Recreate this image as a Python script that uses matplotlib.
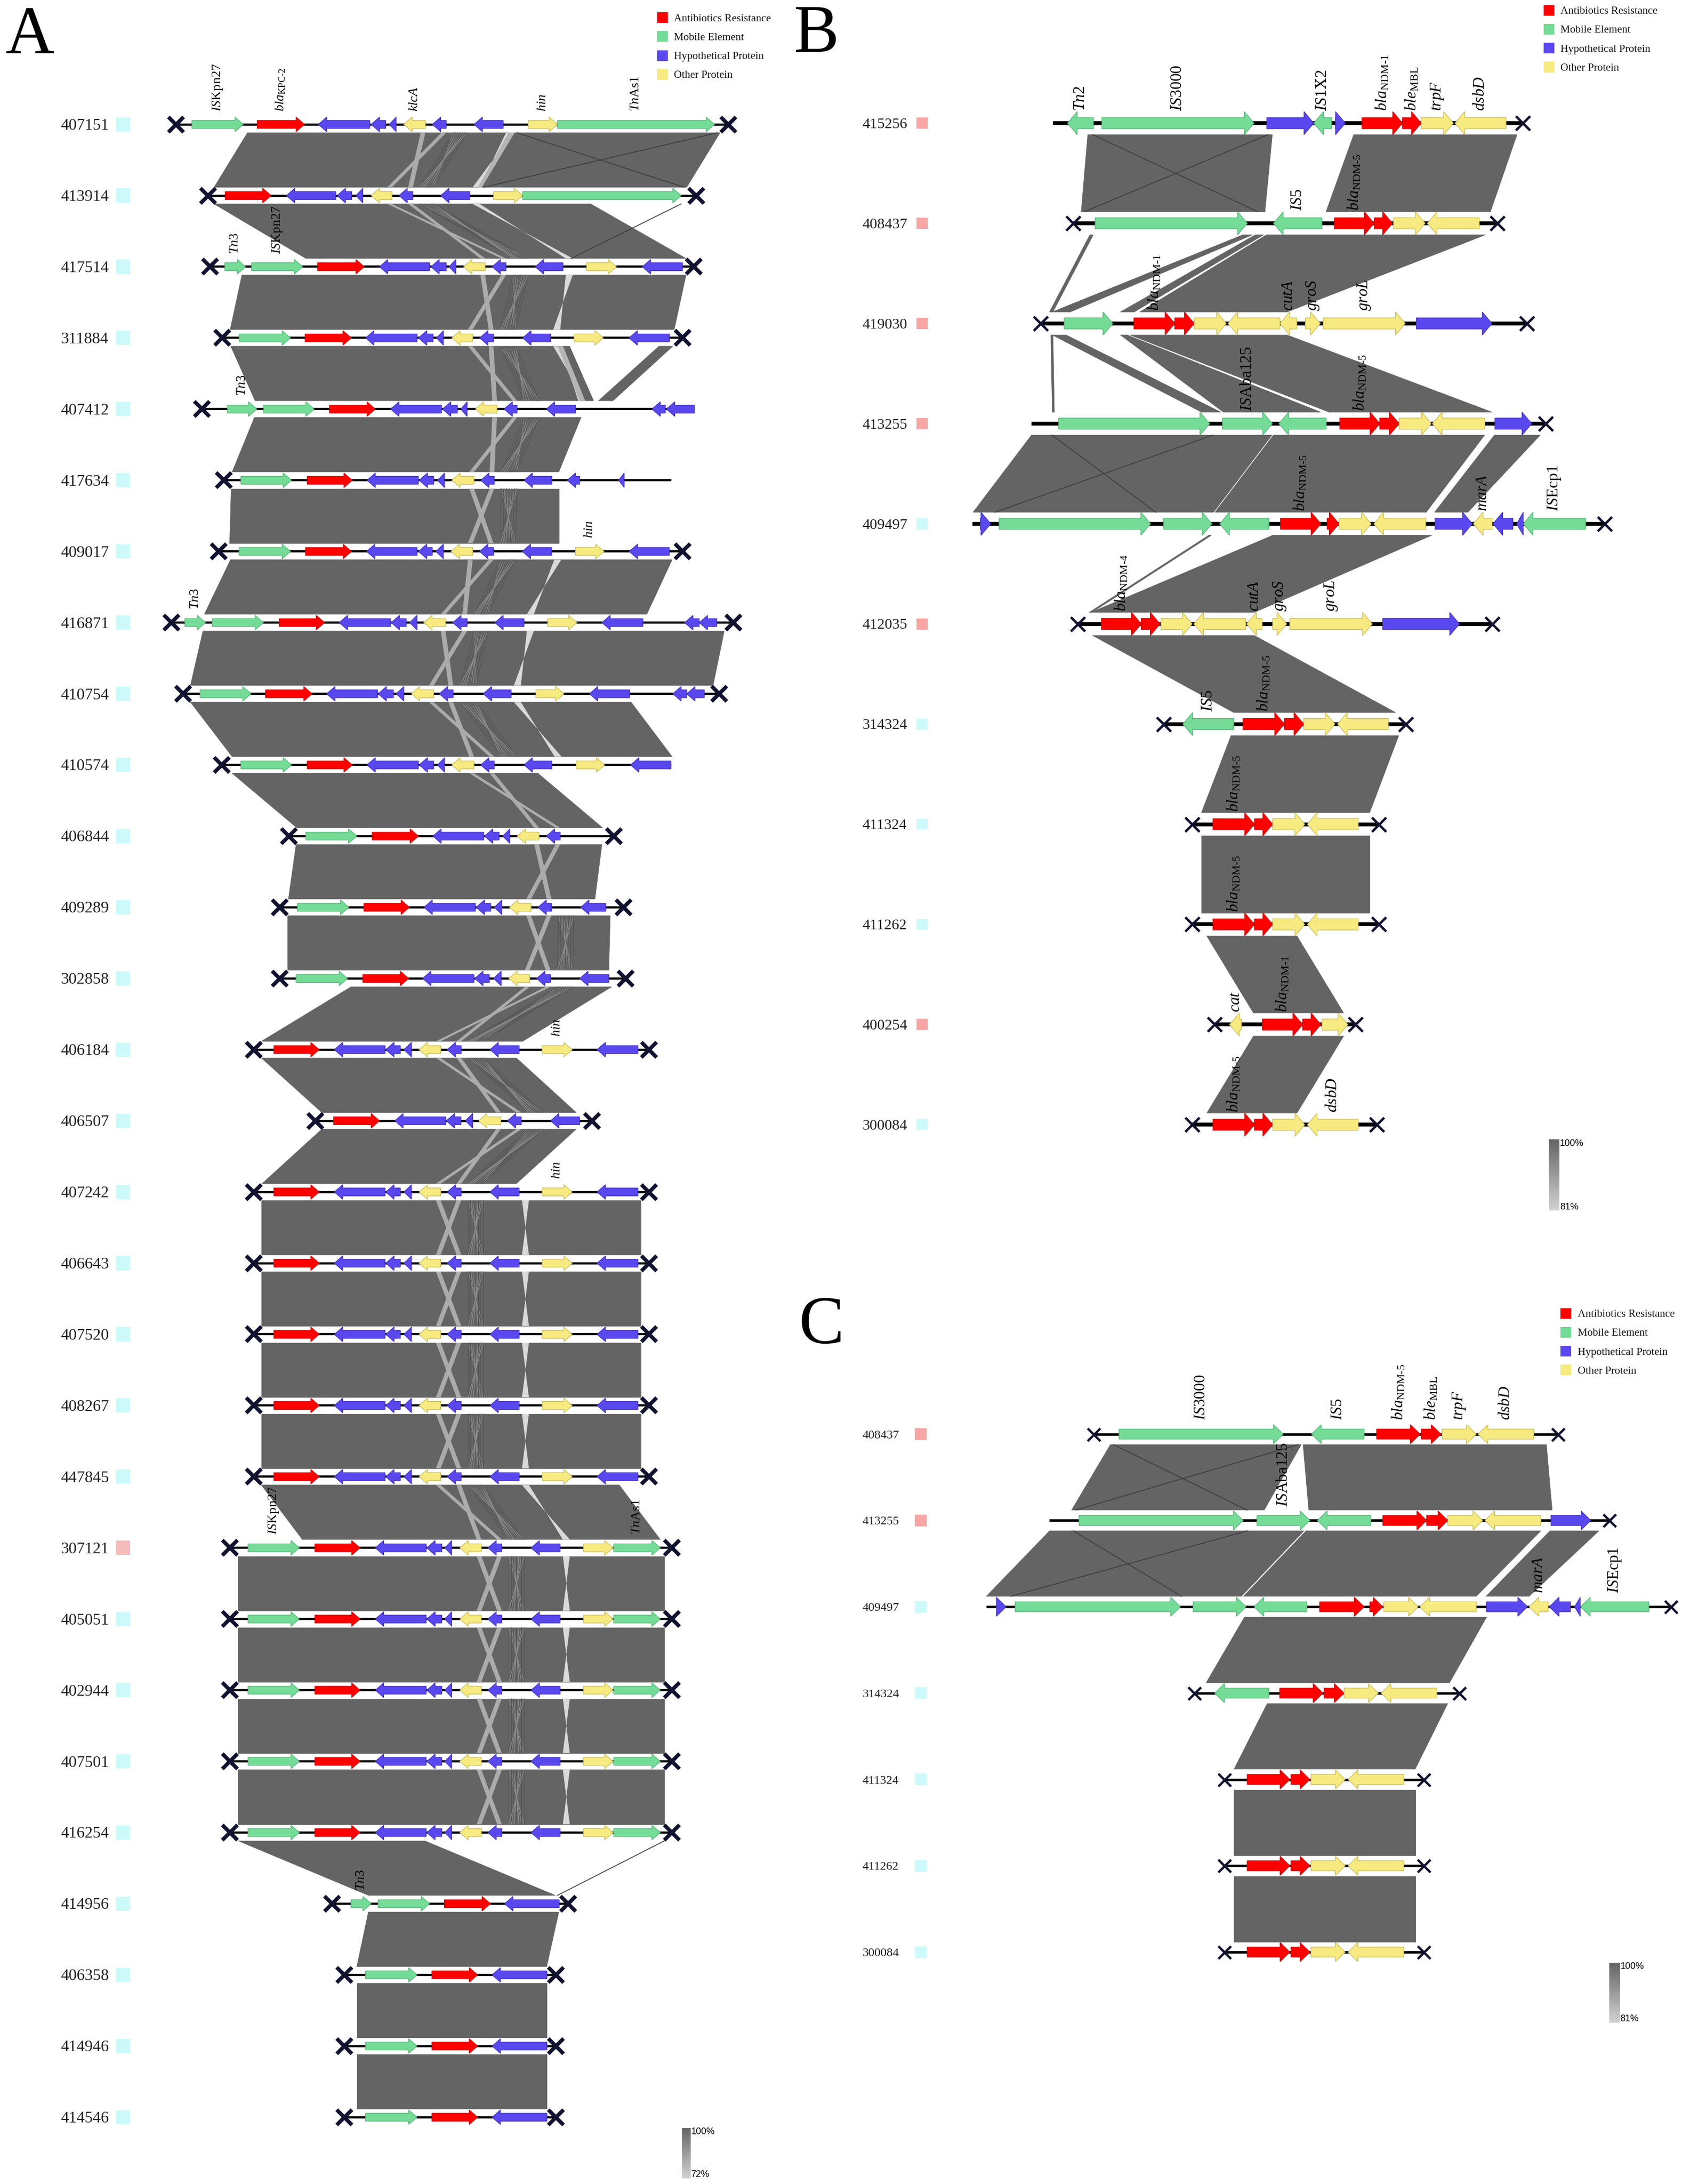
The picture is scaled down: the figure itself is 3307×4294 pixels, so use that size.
import numpy as np
import matplotlib
matplotlib.use("Agg")
import matplotlib.pyplot as plt
from matplotlib.patches import Polygon, Rectangle
from matplotlib.colors import LinearSegmentedColormap

plt.rcParams["font.family"] = ["Liberation Serif", "DejaVu Serif"]
plt.rcParams["mathtext.fontset"] = "custom"
plt.rcParams["mathtext.rm"] = "Liberation Serif"
plt.rcParams["mathtext.it"] = "Liberation Serif:italic"
plt.rcParams["mathtext.bf"] = "Liberation Serif:bold"

# ============================ DATA ============================
legend_labels = ["Antibiotics Resistance", "Mobile Element", "Hypothetical Protein", "Other Protein"]
legend_codes = ["R", "M", "H", "O"]

gene_label_tex = {
    "ISKpn27": r"$\mathit{IS}\mathrm{Kpn27}$",
    "blaKPC2": r"$\mathit{bla}_{\mathrm{KPC\text{-}2}}$",
    "klcA": r"$\mathit{klcA}$",
    "hin": r"$\mathit{hin}$",
    "TnAs1": r"$\mathit{Tn}\mathrm{As1}$",
    "Tn3": r"$\mathit{Tn3}$",
    "Tn2": r"$\mathit{Tn2}$",
    "IS3000": r"$\mathit{IS}\mathrm{3000}$",
    "IS1X2": r"$\mathit{IS}\mathrm{1X2}$",
    "IS5": r"$\mathit{IS}\mathrm{5}$",
    "ISAba125": r"$\mathit{IS}\mathrm{Aba125}$",
    "ISEcp1": r"$\mathit{IS}\mathrm{Ecp1}$",
    "blaNDM1": r"$\mathit{bla}_{\mathrm{NDM\text{-}1}}$",
    "blaNDM4": r"$\mathit{bla}_{\mathrm{NDM\text{-}4}}$",
    "blaNDM5": r"$\mathit{bla}_{\mathrm{NDM\text{-}5}}$",
    "bleMBL": r"$\mathit{ble}_{\mathrm{MBL}}$",
    "trpF": r"$\mathit{trpF}$",
    "dsbD": r"$\mathit{dsbD}$",
    "cutA": r"$\mathit{cutA}$",
    "groS": r"$\mathit{groS}$",
    "groL": r"$\mathit{groL}$",
    "marA": r"$\mathit{marA}$",
    "cat": r"$\mathit{cat}$",
}

# ---------------- Panel A ----------------
A_names = ["407151", "413914", "417514", "311884", "407412", "417634", "409017", "416871",
           "410754", "410574", "406844", "409289", "302858", "406184", "406507", "407242",
           "406643", "407520", "408267", "447845", "307121", "405051", "402944", "407501",
           "416254", "414956", "406358", "414946", "414546"]
A_groups = ["c"] * 20 + ["p"] + ["c"] * 8

# (sequence start, sequence end, cut mark at start, cut mark at end)
A_span = [(126.7, 524, 1, 1), (149.5, 501, 1, 1), (151, 499, 1, 1), (160, 491, 1, 1),
          (145.3, 499.5, 1, 0), (161, 483, 1, 0), (157.4, 491, 1, 1), (123.2, 527.6, 1, 1),
          (131.6, 517.4, 1, 1), (159.5, 483, 1, 0), (207.8, 441.5, 1, 1), (201.3, 448.5, 1, 1),
          (201.3, 450, 1, 1), (182.5, 466.7, 1, 1), (226.8, 426, 1, 1), (182.5, 466.7, 1, 1),
          (182.5, 466.7, 1, 1), (182.5, 466.7, 1, 1), (182.5, 466.7, 1, 1), (182.5, 466.7, 1, 1),
          (165.2, 483.5, 1, 1), (165.2, 483.5, 1, 1), (165.2, 483.5, 1, 1), (165.2, 483.5, 1, 1),
          (165.2, 483.5, 1, 1), (239, 408.7, 1, 1), (247.7, 400, 1, 1), (247.7, 400, 1, 1),
          (247.7, 400, 1, 1)]

# genes: (start, end, strand, category)
A_g407151 = [(138, 175, 1, "M"), (185, 219, 1, "R"), (229, 266, -1, "H"), (267, 277.5, -1, "H"),
             (280, 285, -1, "H"), (290.5, 306, -1, "O"), (311, 321, -1, "H"), (341, 362, -1, "H"),
             (380, 401, 1, "O"), (401, 514, 1, "M")]
A_g413914 = [(162, 195, 1, "R"), (206, 241.5, -1, "H"), (242.5, 253, -1, "H"), (256, 261, -1, "H"),
             (267, 282, -1, "O"), (287, 297, -1, "H"), (317, 338, -1, "H"), (355, 376, 1, "O"),
             (376, 490, 1, "M")]
A_g417514 = [(161.7, 176.7, 1, "M"), (181, 217.7, 1, "M"), (228.5, 262, 1, "R"), (273, 309, -1, "H"),
             (310, 321, -1, "H"), (323, 328, -1, "H"), (333.5, 349, -1, "O"), (354, 364, -1, "H"),
             (385, 405, -1, "H"), (422, 443.5, 1, "O"), (462, 491, -1, "H")]
A_g311884 = [(172, 209, 1, "M"), (219.5, 252.7, 1, "R"), (263, 300, -1, "H"), (301, 311.5, -1, "H"),
             (314, 319, -1, "H"), (325, 340, -1, "O"), (345, 355, -1, "H"), (376, 396, -1, "H"),
             (413, 434, 1, "O"), (452.5, 481.6, -1, "H")]
A_g407412 = [(163.6, 184.8, 1, "M"), (189.6, 226, 1, "M"), (237, 270, 1, "R"), (281, 317.6, -1, "H"),
             (318.3, 329, -1, "H"), (331.5, 336, -1, "H"), (342, 357.5, -1, "O"), (362.6, 372, -1, "H"),
             (393, 414, -1, "H"), (469, 478.6, -1, "H"), (479.4, 499.5, -1, "H")]
A_g417634 = [(173.3, 209.7, 1, "M"), (221, 253.4, 1, "R"), (264, 301, -1, "H"), (301.5, 312, -1, "H"),
             (314.7, 319.8, -1, "H"), (325, 341, -1, "O"), (345.8, 355.6, -1, "H"), (377, 397, -1, "H"),
             (408, 417, -1, "H"), (445, 449, -1, "H")]
A_g409017 = [(172, 209, 1, "M"), (219.8, 252.8, 1, "R"), (263.7, 300, -1, "H"), (301, 311, -1, "H"),
             (313.5, 319, -1, "H"), (324.5, 340, -1, "O"), (345, 355, -1, "H"), (375.7, 396.7, -1, "H"),
             (414, 434.5, 1, "O"), (452.6, 481.5, -1, "H")]
A_g416871 = [(133, 147.8, 1, "M"), (152.6, 189.5, 1, "M"), (200.8, 233.5, 1, "R"), (244, 281, -1, "H"),
             (281.4, 292.3, -1, "H"), (294.6, 300, -1, "H"), (304.8, 320.5, -1, "O"), (325.7, 336, -1, "H"),
             (356, 377, -1, "H"), (394, 415, 1, "O"), (433, 462.5, -1, "H"), (492.5, 503, -1, "H"),
             (503, 515.6, -1, "H")]
A_g410754 = [(143.9, 180.6, 1, "M"), (191, 224.5, 1, "R"), (235, 271.6, -1, "H"), (272, 283, -1, "H"),
             (285, 290.5, -1, "H"), (296, 312, -1, "O"), (316, 326, -1, "H"), (347.6, 367.7, -1, "H"),
             (385.5, 405.7, 1, "O"), (424, 453, -1, "H"), (484, 494, -1, "H"), (494, 506.7, -1, "H")]
A_g410574 = [(173.3, 209.7, 1, "M"), (221, 253.4, 1, "R"), (264, 301, -1, "H"), (301.5, 312, -1, "H"),
             (314.7, 319.8, -1, "H"), (325, 341, -1, "O"), (345.8, 355.6, -1, "H"), (377, 397, -1, "H"),
             (414.4, 435, 1, "O"), (453.6, 482.6, -1, "H")]
A_g406844 = [(220, 256.7, 1, "M"), (267.8, 301, 1, "R"), (311.4, 348, -1, "H"), (348.5, 359, -1, "H"),
             (361.7, 366.8, -1, "H"), (372, 387.8, -1, "O"), (393, 403, -1, "H")]
A_g409289 = [(214, 251, 1, "M"), (261.8, 294.5, 1, "R"), (305, 342, -1, "H"), (342.5, 353, -1, "H"),
             (355.6, 361, -1, "H"), (366.5, 382, -1, "O"), (387, 396.7, -1, "H"), (417.7, 435.8, -1, "H")]
A_g302858 = [(213, 250, 1, "M"), (261, 294, 1, "R"), (304, 341, -1, "H"), (341.5, 352, -1, "H"),
             (355, 360.5, -1, "H"), (366, 381, -1, "O"), (386, 396, -1, "H"), (417, 438, -1, "H")]
A_g406184 = [(197, 229.6, 1, "R"), (240.5, 277, -1, "H"), (277.5, 288, -1, "H"), (290.6, 296, -1, "H"),
             (301.5, 317, -1, "O"), (321.7, 331.8, -1, "H"), (352.5, 373.5, -1, "H"), (390, 411.6, 1, "O"),
             (429.5, 458.9, -1, "H")]
A_g406507 = [(240, 273, 1, "R"), (284, 320.6, -1, "H"), (321, 331.6, -1, "H"), (334.7, 340, -1, "H"),
             (344.3, 360.3, -1, "O"), (365, 375, -1, "H"), (396, 417, -1, "H")]
A_g307121 = [(178.4, 215.3, 1, "M"), (226.5, 259, 1, "R"), (270, 306.6, -1, "H"), (307, 317.8, -1, "H"),
             (320, 325, -1, "H"), (330.8, 346.3, -1, "O"), (351, 361, -1, "H"), (382, 402.9, -1, "H"),
             (419.7, 441, 1, "O"), (441.5, 475, 1, "M")]
A_g414956 = [(252.5, 267, 1, "M"), (272, 309, 1, "M"), (319.7, 352.8, 1, "R"), (363, 402.3, -1, "H")]
A_g406358 = [(263, 300, 1, "M"), (310.7, 343.6, 1, "R"), (354, 393.4, -1, "H")]

A_genes = [A_g407151, A_g413914, A_g417514, A_g311884, A_g407412, A_g417634, A_g409017,
           A_g416871, A_g410754, A_g410574, A_g406844, A_g409289, A_g302858, A_g406184,
           A_g406507, A_g406184, A_g406184, A_g406184, A_g406184, A_g406184,
           A_g307121, A_g307121, A_g307121, A_g307121, A_g307121,
           A_g414956, A_g406358, A_g406358, A_g406358]

A_gene_labels = {0: [(0, "ISKpn27"), (1, "blaKPC2"), (5, "klcA"), (8, "hin"), (9, "TnAs1")],
                 2: [(0, "Tn3"), (1, "ISKpn27")], 4: [(0, "Tn3")], 6: [(8, "hin")],
                 7: [(0, "Tn3")], 13: [(7, "hin")], 15: [(7, "hin")],
                 20: [(0, "ISKpn27"), (9, "TnAs1")], 25: [(0, "Tn3")]}

# homologous regions between neighbouring sequences: (top from, top to, bottom from, bottom to, kind)
A_links = [
    [(178, 366, 154, 344, "d"), (366, 370, 344, 346.5, "l"), (370, 518, 346.5, 494, "d")],
    [(154, 425, 220, 493.5, "d")],
    [(174, 493.5, 165.6, 485, "d")],
    [(166, 409.8, 183.5, 427, "d"), (401.3, 404.9, 417.1, 420.8, "l"), (474, 484, 430.5, 441, "d")],
    [(183, 418, 167, 402, "d")],
    [(166, 402, 165, 402, "d")],
    [(165.8, 483.5, 147, 465.3, "d")],
    [(146, 521, 137, 513, "d")],
    [(137, 454, 167, 483.5, "d")],
    [(167, 387, 213.5, 433.5, "d")],
    [(213, 433, 207.5, 428, "d")],
    [(207, 439, 207, 438, "d")],
    [(252.5, 440, 188, 376, "d")],
    [(188, 371.5, 231.5, 414.5, "d")],
    [(231.5, 414.5, 188.5, 371.5, "d")],
    [(188, 461, 188, 461, "d")],
    [(188, 461, 188, 461, "d")],
    [(188, 461, 188, 461, "d")],
    [(188, 461, 188, 461, "d")],
    [(188, 445.5, 217.5, 475, "d")],
    [(171.4, 477.9, 171.4, 477.9, "d")],
    [(171.4, 477.9, 171.4, 477.9, "d")],
    [(171.4, 477.9, 171.4, 477.9, "d")],
    [(171.4, 477.9, 171.4, 477.9, "d")],
    [(171.4, 305.7, 265, 399.5, "d")],
    [(265, 402, 256.7, 393.3, "d")],
    [(256.7, 393.3, 256.7, 393.3, "d")],
    [(256.7, 393.3, 256.7, 393.3, "d")],
]
A_thin = {0: [(372, 492), (516, 348)], 1: [(490, 411)], 24: [(477.9, 401)]}

# ---------------- Panel B ----------------
B_names = ["415256", "408437", "419030", "413255", "409497", "412035", "314324", "411324",
           "411262", "400254", "300084"]
B_groups = ["p", "p", "p", "p", "c", "p", "c", "c", "c", "p", "c"]
B_span = [(757.5, 1095.3, 0, 1), (771.9, 1077.3, 1, 1), (748.7, 1098.5, 1, 1), (742, 1112, 0, 1),
          (699.7, 1154.4, 0, 1), (775.5, 1073.4, 1, 1), (837.1, 1011.4, 1, 1), (857.6, 992, 1, 1),
          (857.6, 992, 1, 1), (873.7, 975.2, 1, 1), (857.8, 990.3, 1, 1)]
B_g415256 = [(767.9, 786.6, -1, "M"), (792.6, 902.1, 1, "M"), (911.3, 945.1, 1, "H"), (945.1, 957.9, -1, "M"),
             (960.7, 967.8, 1, "H"), (979.8, 1008.9, 1, "R"), (1008.9, 1022.4, 1, "R"),
             (1022.4, 1045.5, 1, "O"), (1046.7, 1083.4, -1, "O")]
B_g408437 = [(787.8, 897.3, 1, "M"), (916.1, 951, -1, "M"), (959.9, 988.5, 1, "R"), (988.5, 1001.7, 1, "R"),
             (1002.5, 1025.2, 1, "O"), (1026.8, 1064.2, -1, "O")]
B_g419030 = [(765.5, 800.5, 1, "M"), (815.7, 845.1, 1, "R"), (845.1, 859.1, 1, "R"), (859.1, 882.2, 1, "O"),
             (883.4, 920.8, -1, "O"), (920.8, 932.9, -1, "O"), (939.1, 949.8, 1, "O"),
             (951.9, 1010.9, 1, "O"), (1018.8, 1073.3, 1, "H")]
B_g413255 = [(761.5, 870.2, 1, "M"), (879.4, 915.3, 1, "M"), (920, 954.1, -1, "M"), (963.8, 992.6, 1, "R"),
             (992.6, 1006.5, 1, "R"), (1006.5, 1029.6, 1, "O"), (1030.4, 1068.2, -1, "O"),
             (1075.4, 1101.9, 1, "H")]
B_g409497 = [(705.3, 712.7, 1, "H"), (718.7, 827.7, 1, "M"), (837.1, 871.8, 1, "M"), (877.4, 912.9, -1, "M"),
             (921.1, 950.2, 1, "R"), (954.7, 963.3, 1, "R"), (963.3, 986.4, 1, "O"), (988.3, 1025.6, -1, "O"),
             (1032.3, 1059.2, 1, "H"), (1059.9, 1073.4, -1, "O"), (1074, 1088.4, -1, "H"),
             (1091, 1095.8, -1, "H"), (1095.8, 1140.6, -1, "M")]
B_g412035 = [(792.3, 821, 1, "R"), (821, 834.5, 1, "R"), (835.2, 857.6, 1, "O"), (858.8, 896.1, -1, "O"),
             (896.8, 908, -1, "O"), (915.5, 925.6, 1, "O"), (927.8, 987.2, 1, "O"), (994.7, 1049.9, 1, "H")]
B_g314324 = [(850.9, 887.5, -1, "M"), (894.2, 924, 1, "R"), (924, 937.9, 1, "R"), (937.9, 960.3, 1, "O"),
             (962.2, 998.7, -1, "O")]
B_g411324 = [(872.6, 902.4, 1, "R"), (902.4, 915.5, 1, "R"), (915.5, 938.6, 1, "O"), (940.5, 977.1, -1, "O")]
B_g400254 = [(884.5, 893.1, -1, "O"), (908, 937.1, 1, "R"), (937.1, 950.2, 1, "R"), (951, 969.6, 1, "O")]
B_genes = [B_g415256, B_g408437, B_g419030, B_g413255, B_g409497, B_g412035, B_g314324,
           B_g411324, B_g411324, B_g400254, B_g411324]
B_gene_labels = {0: [(0, "Tn2"), (1, "IS3000"), (3, "IS1X2"), (5, "blaNDM1"), (6, "bleMBL"), (7, "trpF"), (8, "dsbD")],
                 1: [(1, "IS5"), (2, "blaNDM5")],
                 2: [(1, "blaNDM1"), (5, "cutA"), (6, "groS"), (7, "groL")],
                 3: [(1, "ISAba125"), (3, "blaNDM5")],
                 4: [(4, "blaNDM5"), (9, "marA"), (12, "ISEcp1")],
                 5: [(0, "blaNDM4"), (4, "cutA"), (5, "groS"), (6, "groL")],
                 6: [(0, "IS5"), (1, "blaNDM5")],
                 7: [(0, "blaNDM5")], 8: [(0, "blaNDM5")],
                 9: [(0, "cat"), (1, "blaNDM1")],
                 10: [(0, "blaNDM5"), (3, "dsbD")]}
B_links = [
    [(782.5, 915.3, 777.8, 910, "d"), (973.8, 1091.3, 953.9, 1072.2, "d")],
    [(784, 786.5, 755, 757.5, "d"), (894, 901, 757, 770, "d"), (903, 909, 806, 816, "d"),
     (911, 1068.6, 820, 926, "d")],
    [(755.9, 757.5, 757, 758.5, "d"), (757, 767, 864.3, 878.2, "d"), (806, 811, 880, 950, "d"),
     (813, 926, 956, 1073.3, "d")],
    [(742, 915, 700, 873, "d"), (916, 1068, 874, 1026, "d"), (1075, 1108, 1032, 1056, "d")],
    [(869.5, 871.5, 783.5, 785.5, "d"), (915.5, 1030, 784.8, 902.4, "d")],
    [(785.9, 902.4, 887.5, 1004, "d")],
    [(885.6, 1006.2, 864.3, 985.3, "d")],
    [(864.3, 985.3, 864.3, 985.3, "d")],
    [(868.1, 933, 901.7, 966.6, "d")],
    [(901.7, 966.6, 868.1, 933, "d")],
]
B_thin = {0: [(786, 905), (912, 780)], 3: [(756.8, 831.5), (872.5, 715.7)]}

# ---------------- Panel C ----------------
C_names = ["408437", "413255", "409497", "314324", "411324", "411262", "300084"]
C_groups = ["p", "p", "c", "c", "c", "c", "c"]
C_span = [(786.5, 1120.7, 1, 1), (755, 1157.6, 0, 1), (709.4, 1201.8, 0, 1), (859.1, 1049.7, 1, 1),
          (880.8, 1024.3, 1, 1), (880.8, 1024.3, 1, 1), (880.8, 1024.3, 1, 1)]
C_g408437 = [(805, 923.1, 1, "M"), (943.5, 981.3, -1, "M"), (990.3, 1021.6, 1, "R"), (1022.4, 1036.6, 1, "R"),
             (1037.4, 1062, 1, "O"), (1063.3, 1103.4, -1, "O")]
C_g413255 = [(776.2, 894.3, 1, "M"), (904.2, 942.3, 1, "M"), (947.7, 986.2, -1, "M"), (994.8, 1026.3, 1, "R"),
             (1026.3, 1041.5, 1, "R"), (1041.5, 1066.6, 1, "O"), (1068.2, 1108.4, -1, "O"),
             (1115.7, 1144.4, 1, "H")]
C_g409497 = [(716.8, 723.8, 1, "H"), (730.3, 849.2, 1, "M"), (858.3, 896.4, 1, "M"), (902.1, 940.2, -1, "M"),
             (949.3, 981.3, 1, "R"), (985.4, 994.8, 1, "R"), (995.5, 1020.2, 1, "O"), (1021.4, 1062, -1, "O"),
             (1069.4, 1098.9, 1, "H"), (1100, 1113.7, -1, "O"), (1114.5, 1129.7, -1, "H"),
             (1132.7, 1136.8, -1, "H"), (1137, 1186.2, -1, "M")]
C_g314324 = [(873.8, 912.8, -1, "M"), (920.6, 951.7, 1, "R"), (952.5, 966.9, 1, "R"), (966.9, 991.5, 1, "O"),
             (993.6, 1033.7, -1, "O")]
C_g411324 = [(897.2, 927.9, 1, "R"), (928.7, 942.3, 1, "R"), (943.1, 967.7, 1, "O"), (969.8, 1009.9, -1, "O")]
C_genes = [C_g408437, C_g413255, C_g409497, C_g314324, C_g411324, C_g411324, C_g411324]
C_gene_labels = {0: [(0, "IS3000"), (1, "IS5"), (2, "blaNDM5"), (3, "bleMBL"), (4, "trpF"), (5, "dsbD")],
                 1: [(1, "ISAba125")], 2: [(9, "marA"), (12, "ISEcp1")]}
C_links = [
    [(798.8, 936.1, 770.9, 909.5, "d"), (937.4, 1112.5, 941.5, 1116.6, "d")],
    [(755, 938, 709.5, 893, "d"), (939.5, 1108.4, 894.5, 1062, "d"), (1115, 1150.2, 1069, 1100, "d")],
    [(895.2, 1069.4, 867.7, 1042.8, "d")],
    [(911.6, 1041.5, 887.8, 1018.1, "d")],
    [(887.8, 1018.1, 887.8, 1018.1, "d")],
    [(887.8, 1018.1, 887.8, 1018.1, "d")],
]
C_thin = {0: [(801, 897), (934, 774)], 1: [(772.2, 850), (897.2, 727)]}

identity_ranges = {"A": ("100%", "72%"), "B": ("100%", "81%"), "C": ("100%", "81%")}

# ============================ STYLE ============================
FILL = {"R": "#ff0000", "M": "#74dc96", "H": "#5a48ef", "O": "#f6ea80"}
EDGE = {"R": "#d00000", "M": "#52b474", "H": "#3f2fc0", "O": "#c9bb55"}
LINK = {"d": "#646464", "l": "#b4b4b4"}
SQUARE = {"c": "#ccfafa", "p": "#f8a5a5"}
SQUARE_A = {"c": "#ccfafa", "p": "#f4bcbc"}
XCOL = "#111230"

W, H = 3307, 4294
fig = plt.figure(figsize=(W / 300, H / 300), dpi=300)
ax = fig.add_axes([0, 0, 1, 1])
XMAX = 1210.0
YMAX = XMAX * H / W
PT = 72.0 / 300 * (W / XMAX)  # points per data unit


def arrow_pts(s, e, strand, y, body, head, hl):
    h = min(hl, e - s)
    if strand > 0:
        b = e - h
        return [(s, y - body / 2), (b, y - body / 2), (b, y - head / 2), (e, y),
                (b, y + head / 2), (b, y + body / 2), (s, y + body / 2)]
    b = s + h
    return [(e, y - body / 2), (b, y - body / 2), (b, y - head / 2), (s, y),
            (b, y + head / 2), (b, y + body / 2), (e, y + body / 2)]


def core(genes):
    ys = [i for i, g in enumerate(genes) if g[3] == "O" and g[2] < 0]
    if not ys:
        return None
    i = ys[0]
    hs = [j for j in range(i + 1, len(genes)) if genes[j][3] == "H"]
    if not hs:
        return None
    b5 = genes[hs[1]] if len(hs) > 1 else None
    return genes[i], genes[hs[0]], b5


def draw_panel(names, groups, spans, genes, glabels, links, thin, y0, dy, st, squares, decorate=False):
    ys = [y0 + i * dy for i in range(len(names))]
    gap = st["gap"]
    for i, blocks in enumerate(links):
        yt, yb = ys[i] + gap, ys[i + 1] - gap
        for (t1, t2, b1, b2, kind) in blocks:
            ax.add_patch(Polygon([(t1, yt), (t2, yt), (b2, yb), (b1, yb)], closed=True,
                                 fc=LINK[kind], ec=LINK[kind], lw=0.2,
                                 zorder=1 if kind == "d" else 1.35))
        for (t, b) in thin.get(i, []):
            ax.plot([t, b], [yt, yb], color="#3c3c3c", lw=0.4, zorder=1.6)
        if decorate:
            cT, cB = core(genes[i]), core(genes[i + 1])
            lo_t = min(b[0] for b in blocks); hi_t = max(b[1] for b in blocks)
            lo_b = min(b[2] for b in blocks); hi_b = max(b[3] for b in blocks)
            if cT and cB:
                ty, tb = cT[0][1], cT[1][1]
                by, bb = cB[0][1], cB[1][1]
                if lo_t < ty < hi_t and lo_b < bb < hi_b:
                    w = 3.4
                    for (a, c) in [(ty, bb), (tb, by)]:
                        ax.add_patch(Polygon([(a - w, yt), (a, yt), (c, yb), (c - w, yb)],
                                             fc="#ababab", ec="none", zorder=1.3))
                    if cT[2] is not None and cB[2] is not None:
                        ta, tz = tb + 5, cT[2][0] - 5
                        ba, bz = bb + 5, cB[2][0] - 5
                        if tz > ta and bz > ba:
                            tt = np.linspace(ta, tz, 7)
                            bt = np.linspace(ba, bz, 7)
                            for k in range(7):
                                ax.plot([tt[k], bt[6 - k]], [yt, yb], color="#8e8e8e", lw=0.3, zorder=1.4)
                                ax.plot([tt[k], bt[k]], [yt, yb], color="#505050", lw=0.25, zorder=1.4)
                        t5, b5 = cT[2][1], cB[2][1]
                        if t5 + 7 < hi_t and b5 + 7 < hi_b:
                            ax.add_patch(Polygon([(t5 + 2, yt), (t5 + 7, yt), (b5 + 2, yb), (b5 + 7, yb)],
                                                 fc="#d9d9d9", ec="none", zorder=1.3))
    for i, (name, grp, span, gl) in enumerate(zip(names, groups, spans, genes)):
        y = ys[i]
        s, e, xs, xe = span
        ax.plot([s, e], [y, y], color="black", lw=st["lw"], solid_capstyle="butt", zorder=2)
        for (gs, ge, strand, cat) in gl:
            ax.add_patch(Polygon(arrow_pts(gs, ge, strand, y, st["body"], st["head"], st["hl"]),
                                 closed=True, fc=FILL[cat], ec=EDGE[cat], lw=0.3, zorder=3))
        marks = [p for p, f in ((s, xs), (e, xe)) if f]
        if marks:
            ax.plot(marks, [y] * len(marks), ls="none", marker="x", ms=st["xms"], mew=st["xmew"],
                    color=XCOL, zorder=4)
        for (gi, key) in glabels.get(i, []):
            g = gl[gi]
            ax.text((g[0] + g[1]) / 2, y - st["loff"], gene_label_tex[key], rotation=90,
                    ha="center", va="bottom", fontsize=st["gfs"], color="black", zorder=5)
        em = st["nfs"] / PT
        ax.text(st["nx"], y + 0.33 * em, name, ha="left", va="baseline", fontsize=st["nfs"],
                color="#1e1e1e", zorder=5)
        sq = st["sq"]
        ax.add_patch(Rectangle((st["sqx"], y - sq / 2), sq, sq, fc=squares[grp], ec="none", zorder=5))


def legend(x, y, dy):
    em = 5.1 / PT
    for k, (lab, code) in enumerate(zip(legend_labels, legend_codes)):
        yy = y + k * dy
        ax.add_patch(Rectangle((x, yy - 3.85), 7.7, 7.7, fc=FILL[code], ec="none", zorder=5))
        ax.text(x + 12.2, yy + 0.33 * em, lab, ha="left", va="baseline", fontsize=5.1, color="#111111")


cmap = LinearSegmentedColormap.from_list("ident", ["#646464", "#d2d2d2"])


def colorbar(x0, x1, y0, y1, labels):
    grad = np.linspace(0, 1, 200)[:, None]
    ax.imshow(grad, extent=(x0, x1, y1, y0), origin="upper", cmap=cmap, aspect="auto",
              interpolation="bilinear", zorder=5)
    fam = ["Liberation Sans Narrow", "Liberation Sans", "DejaVu Sans"]
    ax.text(x1 + 0.5, y0 - 0.5, labels[0], ha="left", va="top", fontsize=4.4, family=fam)
    ax.text(x1 + 0.5, y1 + 0.5, labels[1], ha="left", va="bottom", fontsize=4.4, family=fam)


stA = dict(gap=6, body=5.7, head=10.5, hl=6, lw=1.05, xms=7.4, xmew=1.8, loff=9.5, gfs=6.3,
           nfs=7.6, nx=43.8, sq=10.3, sqx=83.3)
stB = dict(gap=8.3, body=8.0, head=16.6, hl=7, lw=1.8, xms=6.5, xmew=1.15, loff=9, gfs=7.6,
           nfs=7.1, nx=620.5, sq=8.0, sqx=659.5)
stC = dict(gap=7.5, body=7.2, head=13.7, hl=7, lw=1.15, xms=6.0, xmew=1.1, loff=10, gfs=7.5,
           nfs=5.8, nx=620.4, sq=8.4, sqx=658.2)

draw_panel(A_names, A_groups, A_span, A_genes, A_gene_labels, A_links, A_thin, 89.5, 51.2, stA,
           SQUARE_A, decorate=True)
draw_panel(B_names, B_groups, B_span, B_genes, B_gene_labels, B_links, B_thin, 88.6, 72.05, stB, SQUARE)
draw_panel(C_names, C_groups, C_span, C_genes, C_gene_labels, C_links, C_thin, 1031.7, 62.1, stC, SQUARE)

legend(472.7, 12.7, 13.6)
legend(1110.5, 7.35, 13.65)
legend(1122.7, 944.8, 13.6)

colorbar(490.5, 496.5, 1531, 1567, identity_ranges["A"])
colorbar(1114.0, 1121.6, 820, 871, identity_ranges["B"])
colorbar(1157.6, 1165.0, 1412, 1455, identity_ranges["C"])

ax.text(4.0, 37.9, "A", fontsize=32, ha="left", va="baseline", color="black")
ax.text(571.0, 37.4, "B", fontsize=32, ha="left", va="baseline", color="black")
ax.text(574.5, 966.3, "C", fontsize=32, ha="left", va="baseline", color="black")

ax.set_xlim(0, XMAX)
ax.set_ylim(YMAX, 0)
ax.axis("off")
fig.savefig("out.png", dpi=300, facecolor="white")
